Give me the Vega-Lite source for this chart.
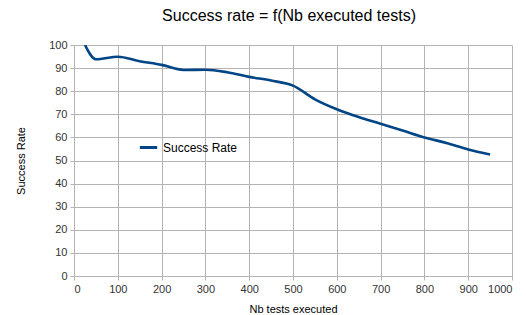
{
  "$schema": "https://vega.github.io/schema/vega-lite/v6.json",
  "autosize": {"type": "none"},
  "padding": {"left": 74, "top": 45, "right": 14, "bottom": 39},
  "width": 438,
  "height": 231,
  "background": "white",
  "title": {"text": "Success rate = f(Nb executed tests)", "font": "Liberation Sans", "fontSize": 16, "fontWeight": "normal", "color": "#000000", "offset": 15, "anchor": "middle", "dx": -4},
  "config": {"view": {"stroke": null}},
  "data": {"values": [
    {"tests": 25, "rate": 100, "series": "Success Rate"},
    {"tests": 50, "rate": 93.8, "series": "Success Rate"},
    {"tests": 100, "rate": 94.9, "series": "Success Rate"},
    {"tests": 150, "rate": 93.0, "series": "Success Rate"},
    {"tests": 200, "rate": 91.4, "series": "Success Rate"},
    {"tests": 250, "rate": 89.2, "series": "Success Rate"},
    {"tests": 300, "rate": 89.3, "series": "Success Rate"},
    {"tests": 350, "rate": 88.2, "series": "Success Rate"},
    {"tests": 400, "rate": 86.2, "series": "Success Rate"},
    {"tests": 450, "rate": 84.6, "series": "Success Rate"},
    {"tests": 500, "rate": 82.4, "series": "Success Rate"},
    {"tests": 550, "rate": 76.5, "series": "Success Rate"},
    {"tests": 600, "rate": 72.2, "series": "Success Rate"},
    {"tests": 650, "rate": 68.8, "series": "Success Rate"},
    {"tests": 700, "rate": 65.9, "series": "Success Rate"},
    {"tests": 750, "rate": 63.0, "series": "Success Rate"},
    {"tests": 800, "rate": 60.0, "series": "Success Rate"},
    {"tests": 850, "rate": 57.6, "series": "Success Rate"},
    {"tests": 900, "rate": 54.8, "series": "Success Rate"},
    {"tests": 950, "rate": 52.6, "series": "Success Rate"}
  ]},
  "mark": {"type": "line", "interpolate": "monotone", "strokeWidth": 2.6, "clip": true},
  "encoding": {
    "x": {"field": "tests", "type": "quantitative", "scale": {"domain": [0, 1000], "nice": false},
      "axis": {"title": "Nb tests executed", "format": "d", "values": [0,100,200,300,400,500,600,700,800,900,1000], "labelFont": "Liberation Sans", "labelFontSize": 11, "labelColor": "#333333", "titleFont": "Liberation Sans", "titleFontSize": 11, "titleFontWeight": "normal", "titleColor": "#000000", "gridColor": "#b3b3b3", "domainColor": "#b3b3b3", "tickColor": "#b3b3b3", "tickSize": 4, "labelPadding": 3, "titlePadding": 9}},
    "y": {"field": "rate", "type": "quantitative", "scale": {"domain": [0, 100], "nice": false},
      "axis": {"title": "Success Rate", "values": [0,10,20,30,40,50,60,70,80,90,100], "labelFont": "Liberation Sans", "labelFontSize": 11, "labelColor": "#333333", "titleFont": "Liberation Sans", "titleFontSize": 11, "titleFontWeight": "normal", "titleColor": "#000000", "gridColor": "#b3b3b3", "domainColor": "#b3b3b3", "tickColor": "#b3b3b3", "tickSize": 4, "labelPadding": 3, "titlePadding": 22}},
    "color": {"field": "series", "type": "nominal", "scale": {"range": ["#004586"]},
      "legend": {"title": null, "orient": "none", "legendX": 64, "legendY": 92, "symbolType": "stroke", "symbolStrokeWidth": 3, "symbolSize": 300, "labelFont": "Liberation Sans", "labelFontSize": 12, "labelColor": "#000000"}}
  }
}
